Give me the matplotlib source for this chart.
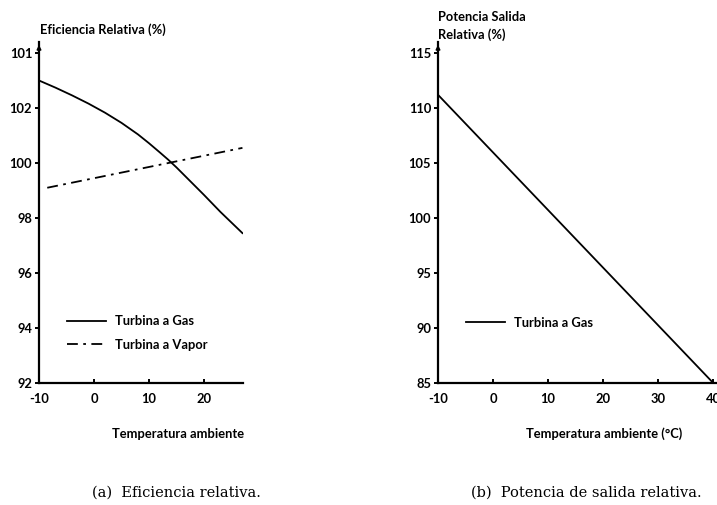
import matplotlib
matplotlib.use("Agg")
import matplotlib.pyplot as plt

# ---- data ----
gas_x = [-10, -7, -4, -1, 2, 5, 8, 10, 12, 13.5, 15, 17, 20, 23, 27]
gas_y = [103.0, 102.74, 102.46, 102.16, 101.83, 101.46, 101.04, 100.72, 100.38,
         100.12, 99.84, 99.44, 98.84, 98.22, 97.45]
vapor_x = [-8.5, 27]
vapor_y = [99.1, 100.55]
left_xticks = [-10, 0, 10, 20]
left_yticks = [92, 94, 96, 98, 100, 102, 104]
left_yticklabels = ["92", "94", "96", "98", "100", "102", "101"]

power_x = [-10, 40]
power_y = [111.2, 85.0]
right_xticks = [-10, 0, 10, 20, 30, 40]
right_yticks = [85, 90, 95, 100, 105, 110, 115]

FONT = "Lato"
fs = 9.3

fig = plt.figure(figsize=(7.17, 5.05), dpi=100)

def style(ax):
    for s in ["top", "right"]:
        ax.spines[s].set_visible(False)
    for s in ["left", "bottom"]:
        ax.spines[s].set_linewidth(1.6)
    ax.tick_params(axis="y", direction="out", length=3, width=1.4, pad=2)
    ax.tick_params(axis="x", direction="in", length=3, width=1.4, pad=7)
    for lab in ax.get_xticklabels() + ax.get_yticklabels():
        lab.set_fontfamily(FONT)
        lab.set_fontweight("bold")
        lab.set_fontsize(fs)
    ax.annotate("", xy=(0, 1.0), xytext=(0, 0.96), xycoords="axes fraction",
                arrowprops=dict(arrowstyle="-|>", lw=1.2, color="black",
                                mutation_scale=6), annotation_clip=False)

# ---- left ----
ax1 = fig.add_axes([39/717, (505-383)/505, 204/717, 341/505])
ax1.plot(gas_x, gas_y, color="black", lw=1.3, label="Turbina a Gas")
ax1.plot(vapor_x, vapor_y, color="black", lw=1.3, linestyle=(0, (6, 3, 1.5, 3)),
         label="Turbina a Vapor")
ax1.set_xlim(-10, 27.1)
ax1.set_ylim(92, 104.4)
ax1.set_xticks(left_xticks)
ax1.set_xticklabels([str(v) for v in left_xticks])
ax1.set_yticks(left_yticks)
ax1.set_yticklabels(left_yticklabels)
style(ax1)
ax1.legend(loc="lower left", bbox_to_anchor=(0.08, 0.06), frameon=False,
           prop=dict(family=FONT, weight="bold", size=fs),
           handlelength=3.0, handletextpad=0.7, labelspacing=0.9)
fig.text(40/717, 1-30/505, "Eficiencia Relativa (%)", fontfamily=FONT,
         fontweight="bold", fontsize=fs, ha="left", va="center")
fig.text(178/717, 1-434/505, "Temperatura ambiente", fontfamily=FONT,
         fontweight="bold", fontsize=fs, ha="center", va="center")

# ---- right ----
ax2 = fig.add_axes([438/717, (505-383)/505, 278/717, 341/505])
ax2.plot(power_x, power_y, color="black", lw=1.3, label="Turbina a Gas")
ax2.set_xlim(-10, 40.5)
ax2.set_ylim(85, 116.0)
ax2.set_xticks(right_xticks)
ax2.set_xticklabels([str(v) for v in right_xticks])
ax2.set_yticks(right_yticks)
ax2.set_yticklabels([str(v) for v in right_yticks])
style(ax2)
ax2.legend(loc="lower left", bbox_to_anchor=(0.06, 0.125), frameon=False,
           prop=dict(family=FONT, weight="bold", size=fs),
           handlelength=3.0, handletextpad=0.7)
fig.text(438/717, 1-17/505, "Potencia Salida", fontfamily=FONT,
         fontweight="bold", fontsize=fs, ha="left", va="center")
fig.text(438/717, 1-35/505, "Relativa (%)", fontfamily=FONT,
         fontweight="bold", fontsize=fs, ha="left", va="center")
fig.text(604/717, 1-434/505, "Temperatura ambiente (°C)", fontfamily=FONT,
         fontweight="bold", fontsize=fs, ha="center", va="center")

# ---- captions ----
fig.text(176/717, 1-493/505, "(a)  Eficiencia relativa.", fontfamily="DejaVu Serif",
         fontsize=10.5, ha="center", va="center")
fig.text(586/717, 1-493/505, "(b)  Potencia de salida relativa.", fontfamily="DejaVu Serif",
         fontsize=10.5, ha="center", va="center")

fig.savefig("out.png", dpi=100)
